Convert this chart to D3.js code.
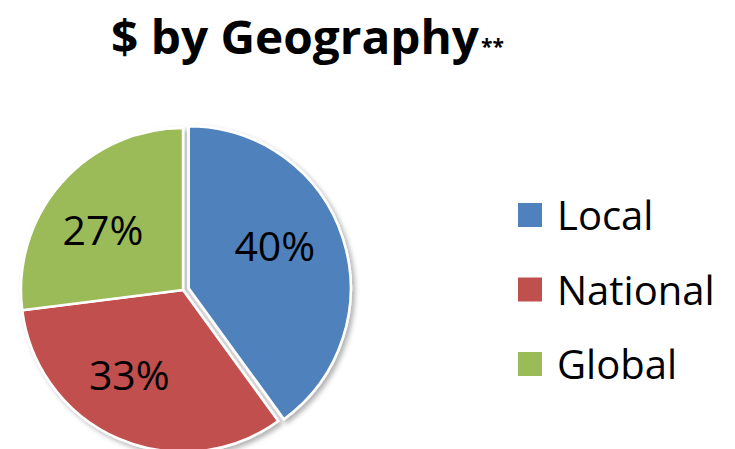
<!DOCTYPE html>
<html>
    <meta charset="utf-8">
    <head>
        <title>$ by Geography</title>
        <script src="https://d3js.org/d3.v7.min.js"></script>
        <style>
            body { margin: 0; background: #fff; }
            text { font-family: "Open Sans", sans-serif; }
        </style>
    </head>
    <body>
        <div id="my_dataviz"></div>
    </body>
</html>
<script>
    // data
    var categories = ["Local", "National", "Global"];
    var values = [40, 33, 27];
    var colors = ["#4F81BD", "#C0504D", "#9BBB59"];

    var width = 735, height = 449;
    var cx = 183, cy = 290, radius = 162, explode = 6;

    var svg = d3.select("#my_dataviz")
        .append("svg")
        .attr("width", width)
        .attr("height", height);

    // soft shadow like the office chart
    var defs = svg.append("defs");
    var filter = defs.append("filter")
        .attr("id", "shadow")
        .attr("x", "-20%").attr("y", "-20%")
        .attr("width", "140%").attr("height", "140%");
    filter.append("feDropShadow")
        .attr("dx", 3).attr("dy", 3)
        .attr("stdDeviation", 2.5)
        .attr("flood-color", "#000")
        .attr("flood-opacity", 0.3);

    // title
    var title = svg.append("text")
        .attr("x", 111)
        .attr("y", 54)
        .attr("font-weight", "bold")
        .attr("font-size", "46px")
        .attr("fill", "#000");
    title.append("tspan")
        .attr("textLength", 368)
        .attr("lengthAdjust", "spacingAndGlyphs")
        .text("$ by Geography");
    title.append("tspan").attr("font-size", "21px").attr("dx", 2).text("**");

    var pie = d3.pie()
        .sort(null)
        .value(function(d) { return d; });

    var arcs = pie(values);

    var arc = d3.arc()
        .innerRadius(0)
        .outerRadius(radius);

    var labelArc = d3.arc()
        .innerRadius(100)
        .outerRadius(100);

    // small nudges so labels sit where the office layout put them
    var labelShift = [[-9, -11], [-14, -7], [-5, 6]];

    var g = svg.append("g")
        .attr("transform", "translate(" + cx + "," + cy + ")");

    // first slice is pulled out a little
    function offset(d, i) {
        if (i !== 0) return [0, 0];
        var a = (d.startAngle + d.endAngle) / 2;
        return [Math.sin(a) * explode, -Math.cos(a) * explode];
    }

    var slices = g.append("g").attr("filter", "url(#shadow)");
    slices.selectAll("path")
        .data(arcs)
        .enter()
        .append("path")
            .attr("d", arc)
            .attr("transform", function(d, i) {
                var o = offset(d, i);
                return "translate(" + o[0] + "," + o[1] + ")";
            })
            .attr("fill", function(d, i) { return colors[i]; })
            .attr("stroke", "#fff")
            .attr("stroke-width", 2.5)
            .attr("stroke-linejoin", "round");

    g.selectAll("text.pct")
        .data(arcs)
        .enter()
        .append("text")
            .attr("class", "pct")
            .attr("transform", function(d, i) {
                var c = labelArc.centroid(d);
                var o = offset(d, i);
                return "translate(" + (c[0] + o[0] + labelShift[i][0]) + "," + (c[1] + o[1] + labelShift[i][1]) + ")";
            })
            .attr("text-anchor", "middle")
            .attr("dy", "0.36em")
            .attr("font-size", "41px")
            .attr("fill", "#000")
            .text(function(d) { return d.value + "%"; });

    // legend
    var legend = svg.append("g")
        .attr("transform", "translate(518,203)");

    var item = legend.selectAll("g")
        .data(categories)
        .enter()
        .append("g")
            .attr("transform", function(d, i) { return "translate(0," + (i * 74.5) + ")"; });

    item.append("rect")
        .attr("width", 24)
        .attr("height", 24)
        .attr("fill", function(d, i) { return colors[i]; });

    item.append("text")
        .attr("x", 39)
        .attr("y", 27)
        .attr("font-size", "40px")
        .attr("fill", "#000")
        .text(function(d) { return d; });
</script>
